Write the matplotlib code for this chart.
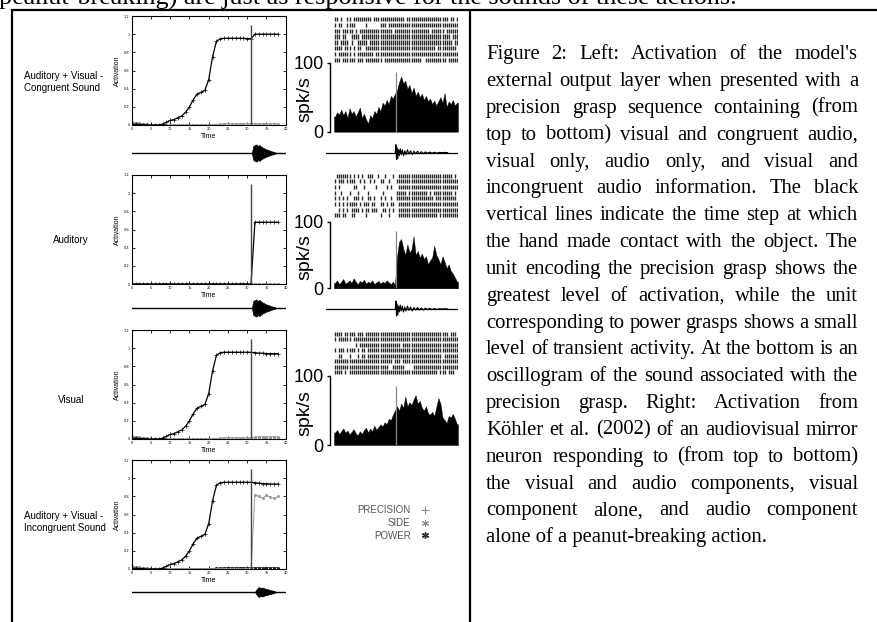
import matplotlib
matplotlib.use('Agg')
import matplotlib.pyplot as plt
from matplotlib.lines import Line2D
from matplotlib.font_manager import FontProperties
from matplotlib.ticker import FormatStrFormatter
import numpy as np

W, H = 877, 622


def rect(l, t, w, h):
    return [l / W, 1 - (t + h) / H, w / W, h / H]


# ----------------------------------------------------------------- data
TIME = [0, 1, 2, 3, 4, 5, 6, 7, 8, 9, 10, 11, 12, 13, 14, 15, 16, 17, 18, 19,
        20, 21, 22, 23, 24, 25, 26, 27, 28, 29, 30, 31, 32, 33, 34, 35, 36, 37, 38]
CONTACT_T = 31
X_TICKS = [0, 5, 10, 15, 20, 25, 30, 35, 40]
Y_TICKS = [0, 0.2, 0.4, 0.6, 0.8, 1.0, 1.2]

ROW_LABELS = ["Auditory + Visual -\nCongruent Sound", "Auditory", "Visual",
              "Auditory + Visual -\nIncongruent Sound"]

PREC_AV_CONG = [0.01, 0.01, 0.005, 0.005, 0.0, 0.0, 0.0, 0.0, 0.01, 0.03, 0.05, 0.06, 0.08,
                0.10, 0.14, 0.20, 0.28, 0.34, 0.36, 0.38, 0.50, 0.75, 0.92, 0.95, 0.955,
                0.955, 0.955, 0.955, 0.955, 0.955, 0.95, 0.95, 1.0, 1.0, 1.0, 1.0, 1.0, 1.0, 1.0]
SIDE_AV_CONG = [0.03, 0.025, 0.02, 0.015, 0.01, 0.005, 0.0, 0.0, 0.0, 0.0, 0.0, 0.0, 0.0,
                0.0, 0.0, 0.0, 0.0, 0.0, 0.0, 0.0, 0.0, 0.0, 0.005, 0.01, 0.012, 0.015,
                0.015, 0.015, 0.015, 0.015, 0.015, 0.015, 0.015, 0.015, 0.015, 0.015, 0.015, 0.015, 0.015]
POWER_AV_CONG = [0.0, 0.0, 0.0, 0.0, 0.0, 0.0, 0.0, 0.0, 0.0, 0.0, 0.0, 0.0, 0.0, 0.0, 0.0,
                 0.0, 0.0, 0.0, 0.0, 0.0, 0.0, 0.0, 0.0, 0.0, 0.0, 0.0, 0.0, 0.0, 0.0, 0.0,
                 0.0, 0.0, 0.0, 0.0, 0.0, 0.0, 0.0, 0.0, 0.0]

PREC_AUD = [0.0, 0.0, 0.0, 0.0, 0.0, 0.0, 0.0, 0.0, 0.0, 0.0, 0.0, 0.0, 0.0, 0.0, 0.0, 0.0,
            0.0, 0.0, 0.0, 0.0, 0.0, 0.0, 0.0, 0.0, 0.0, 0.0, 0.0, 0.0, 0.0, 0.0, 0.0, 0.0,
            0.68, 0.68, 0.68, 0.68, 0.68, 0.68, 0.68]
SIDE_AUD = [0.0, 0.0, 0.0, 0.0, 0.0, 0.0, 0.0, 0.0, 0.0, 0.0, 0.0, 0.0, 0.0, 0.0, 0.0, 0.0,
            0.0, 0.0, 0.0, 0.0, 0.0, 0.0, 0.0, 0.0, 0.0, 0.0, 0.0, 0.0, 0.0, 0.0, 0.0, 0.0,
            0.0, 0.0, 0.0, 0.0, 0.0, 0.0, 0.0]
POWER_AUD = [0.0, 0.0, 0.0, 0.0, 0.0, 0.0, 0.0, 0.0, 0.0, 0.0, 0.0, 0.0, 0.0, 0.0, 0.0, 0.0,
             0.0, 0.0, 0.0, 0.0, 0.0, 0.0, 0.0, 0.0, 0.0, 0.0, 0.0, 0.0, 0.0, 0.0, 0.0, 0.0,
             0.0, 0.0, 0.0, 0.0, 0.0, 0.0, 0.0]

PREC_VIS = [0.01, 0.01, 0.005, 0.005, 0.0, 0.0, 0.0, 0.0, 0.01, 0.03, 0.05, 0.06, 0.08,
            0.10, 0.14, 0.20, 0.28, 0.34, 0.36, 0.38, 0.50, 0.75, 0.92, 0.95, 0.955,
            0.955, 0.955, 0.955, 0.955, 0.955, 0.955, 0.955, 0.95, 0.945, 0.945, 0.94, 0.94, 0.94, 0.94]
SIDE_VIS = [0.03, 0.025, 0.02, 0.015, 0.01, 0.005, 0.0, 0.0, 0.0, 0.0, 0.0, 0.0, 0.0,
            0.0, 0.0, 0.0, 0.0, 0.0, 0.0, 0.0, 0.0, 0.0, 0.005, 0.01, 0.012, 0.015,
            0.015, 0.015, 0.015, 0.015, 0.015, 0.015, 0.02, 0.025, 0.025, 0.025, 0.025, 0.025, 0.025]
POWER_VIS = [0.0, 0.0, 0.0, 0.0, 0.0, 0.0, 0.0, 0.0, 0.0, 0.0, 0.0, 0.0, 0.0, 0.0, 0.0,
             0.0, 0.0, 0.0, 0.0, 0.0, 0.0, 0.0, 0.0, 0.0, 0.0, 0.0, 0.0, 0.0, 0.0, 0.0,
             0.0, 0.0, 0.0, 0.0, 0.0, 0.0, 0.0, 0.0, 0.0]

PREC_AV_INC = [0.01, 0.01, 0.005, 0.005, 0.0, 0.0, 0.0, 0.0, 0.01, 0.03, 0.05, 0.06, 0.08,
               0.10, 0.14, 0.20, 0.28, 0.34, 0.36, 0.38, 0.50, 0.75, 0.92, 0.95, 0.955,
               0.955, 0.955, 0.955, 0.955, 0.955, 0.955, 0.955, 0.95, 0.945, 0.94, 0.94, 0.935, 0.935, 0.935]
SIDE_AV_INC = [0.03, 0.025, 0.02, 0.015, 0.01, 0.005, 0.0, 0.0, 0.0, 0.0, 0.0, 0.0, 0.0,
               0.0, 0.0, 0.0, 0.0, 0.0, 0.0, 0.0, 0.0, 0.0, 0.0, 0.0, 0.0, 0.0,
               0.0, 0.0, 0.0, 0.0, 0.0, 0.0, 0.82, 0.80, 0.78, 0.81, 0.79, 0.78, 0.80]
POWER_AV_INC = [0.0, 0.0, 0.0, 0.0, 0.0, 0.0, 0.0, 0.0, 0.0, 0.0, 0.0, 0.0, 0.0, 0.0, 0.0,
                0.0, 0.0, 0.0, 0.0, 0.0, 0.0, 0.005, 0.01, 0.012, 0.015, 0.015, 0.015, 0.015,
                0.015, 0.015, 0.015, 0.015, 0.015, 0.015, 0.015, 0.015, 0.015, 0.015, 0.015]

# sound oscillogram envelopes (model panels), time units
ENV_T_CONG = [31.2, 31.6, 32.0, 32.4, 32.8, 33.2, 33.6, 34.0, 34.5, 35.0, 35.5, 36.0, 36.5, 37.0, 37.6]
ENV_A_CONG = [0, 7, 8, 8.5, 7, 8, 6.5, 5.5, 4.5, 3.5, 3, 2, 1.5, 1, 0]
ENV_T_INC = [32.0, 32.5, 33.0, 33.5, 34.0, 34.5, 35.0, 35.5, 36.0, 36.5, 37.0, 37.6]
ENV_A_INC = [0, 3, 5, 4, 4.5, 3.5, 3, 2.5, 2, 1.5, 1, 0]

# neuron firing-rate histograms (spk/s), 60 bins, event at bin 30
HIST_AV = [22, 28, 25, 32, 24, 30, 20, 34, 26, 30, 22, 28, 35, 20, 26, 18, 12, 24, 20, 30,
           26, 36, 30, 42, 38, 46, 40, 52, 48, 55, 60, 72, 80, 70, 74, 62, 68, 56, 64, 52,
           58, 50, 55, 46, 52, 44, 48, 40, 45, 38, 44, 50, 42, 56, 36, 44, 40, 46, 38, 42]
HIST_AUD = [8, 12, 6, 10, 14, 7, 9, 12, 8, 15, 10, 6, 11, 9, 13, 7, 10, 8, 12, 6,
            9, 11, 7, 10, 8, 12, 9, 6, 10, 5, 48, 70, 74, 60, 50, 66, 54, 58, 78, 50,
            56, 46, 52, 44, 48, 36, 42, 46, 64, 50, 44, 36, 48, 40, 30, 36, 26, 22, 16, 10]
HIST_VIS = [18, 22, 16, 20, 24, 18, 21, 15, 19, 23, 17, 14, 20, 16, 22, 25, 18, 24, 20, 28,
            22, 26, 30, 27, 33, 30, 38, 36, 44, 50, 56, 50, 60, 54, 70, 56, 62, 58, 66, 72,
            60, 64, 54, 50, 56, 46, 44, 48, 42, 55, 68, 60, 40, 36, 32, 42, 40, 45, 38, 30]
HIST_MARK = 30
HIST_MARK_TOP = 86

RASTER_AV = [
    "|| |  || ||||||||| ||||||||||||||| |||||||||||||||||||| || |",
    "| ||  ||||     |      ||| |||||||||||||||||||||||||||||||||||",
    "||| ||||| | |||||||||||||||| ||||||||||||||||| |||||| |||||||",
    "||| ||  |||| ||||||||||||||||||||||||||||||||||||||||||| ||||",
    "|| |||| |  ||||| |||||||||||||||||||||||||||||||||||||||| |||",
    "|||| ||| | ||  |||||||||||||||||||||||||||||||||| ||||||||| |",
    "| |||||| | |||||||| ||||||||||||||||||||||||||||||||||||||||",
    "||| |||||| ||| |||||||| ||||||||||||||||||  |||||||||| ||||||",
]
RASTER_AUD = [
    " ||||||| | | |  |||  |  |   |  |||||||||||||||||||||||||| | |",
    "| ||| ||||  | |  | |  ||  |   ||||||||||||||||||||||||||||||",
    "| |      ||   |     |    | |   ||||||||||||||||||||||||||||| ",
    "|  |   |   |    |      |      ||||| ||||||||| | ||||||||| |  ",
    "| | | |  ||| |  || |  | |  |  |||||||||||||||||| |||||||||| |",
    "| | | ||||| | ||| ||  || | ||  |||||||||||||||||||||||||||||",
    "  | | | |||| | || |||  || | |  ||||||||||||||||||||||||||||||",
    "||| ||  ||     |      |   |    ||||||||||||||||||| |||||||||  ",
]
RASTER_VIS = [
    "|||| ||||| ||| |||||||||||||||||||||||||||||||||||||||| |||",
    "| |||||| |||||||||||||||||||||||||||||||||||||||||||||||||||",
    "          | |||||||||||||||||||| ||||||||||||||||||||||||||||",
    "| ||| |||| | || ||||||||||||||||||||||||||||||||||||||||||||",
    "  ||   |   | || |||||||||||||||||||||||||||||||||||| ||||||||",
    "|||||||||||||||||||||||||||| ||| |||||||||||||||||||||||||||",
    "||||||||||||||||||||||||||  ||||||    |||||||||||||||||||||||",
    "|||| | ||||||||||||||||||||||||||||||||||||||||||| ||| |||  |",
]

# neuron-panel sound oscillogram (bin units, relative amplitude)
OSC_T = [29.6, 29.9, 30.2, 30.5, 30.8, 31.2, 31.6, 32.0, 32.5, 33.0, 33.6, 34.2, 34.8, 35.5,
         36.2, 37.0, 37.8, 38.6, 39.5, 40.4, 41.3, 42.2, 43.2, 44.2, 45.2, 46.3, 47.4, 48.5,
         49.7, 51.0, 52.3, 53.6, 55.0]
OSC_A = [0, 8, -7, 5, -6, 3, -3, 4, -2, 3, -3, 2, -2, 3, -1.5, 2, -2, 1.5, -1, 1.5, -1, 1,
         -1, 0.8, -0.6, 0.6, -0.5, 0.4, -0.4, 0.3, 0, 0.3, 0]

LEGEND_LABELS = ["PRECISION", "SIDE", "POWER"]

CAPTION = [
    "Figure 2: Left: Activation of the model's",
    "external output layer when presented with a",
    "precision grasp sequence containing (from",
    "top to bottom) visual and congruent audio,",
    "visual only, audio only, and visual and",
    "incongruent audio information. The black",
    "vertical lines indicate the time step at which",
    "the hand made contact with the object. The",
    "unit encoding the precision grasp shows the",
    "greatest level of activation, while the unit",
    "corresponding to power grasps shows a small",
    "level of transient activity. At the bottom is an",
    "oscillogram of the sound associated with the",
    "precision grasp. Right: Activation from",
    "Köhler et al. (2002) of an audiovisual mirror",
    "neuron responding to (from top to bottom)",
    "the visual and audio components, visual",
    "component alone, and audio component",
    "alone of a peanut-breaking action.",
]
TOP_LINE = "peanut-breaking) are just as responsive for the sounds of these actions."

# ----------------------------------------------------------------- figure
fig = plt.figure(figsize=(W / 100, H / 100), dpi=100)
ax0 = fig.add_axes([0, 0, 1, 1])
ax0.set_xlim(0, W)
ax0.set_ylim(H, 0)
ax0.axis('off')

# page frame
ax0.plot([12, 877], [9.5, 9.5], color='k', lw=1.6, solid_capstyle='butt', zorder=5)
ax0.plot([12, 12], [9, 622], color='k', lw=1.6, solid_capstyle='butt', zorder=5)
ax0.plot([470, 470], [9, 622], color='k', lw=1.6, solid_capstyle='butt', zorder=5)

# model activation panels
model_sets = [
    (PREC_AV_CONG, SIDE_AV_CONG, POWER_AV_CONG, (ENV_T_CONG, ENV_A_CONG)),
    (PREC_AUD, SIDE_AUD, POWER_AUD, (ENV_T_CONG, ENV_A_CONG)),
    (PREC_VIS, SIDE_VIS, POWER_VIS, None),
    (PREC_AV_INC, SIDE_AV_INC, POWER_AV_INC, (ENV_T_INC, ENV_A_INC)),
]
ax_tops = [16, 175, 330, 460]
osc_y = [153, 308, None, 592]
label_pos = [(24, 82, 'left'), (71, 240, 'center'), (71, 400, 'center'), (24, 522, 'left')]

for i, (prec, side, power, env) in enumerate(model_sets):
    ax = fig.add_axes(rect(131.7, ax_tops[i], 154, 109))
    ax.plot(TIME, power, color='#222', lw=0.6, marker=(6, 2, 0), ms=2, mew=0.5)
    ax.plot(TIME, side, color='#9a9a9a', lw=0.7, marker=(6, 2, 0), ms=2, mew=0.5)
    ax.plot(TIME, prec, color='k', lw=0.9, marker='+', ms=2.2, mew=0.5)
    ax.vlines(CONTACT_T, 0, 1.1, color='#444', lw=1.0)
    ax.set_xlim(0, 40)
    ax.set_ylim(0, 1.2)
    ax.set_xticks(X_TICKS)
    ax.set_yticks(Y_TICKS)
    ax.yaxis.set_major_formatter(FormatStrFormatter('%g'))
    ax.tick_params(direction='in', length=2, width=0.6, labelsize=2.5, top=True,
                   right=True, pad=1.5)
    for s in ax.spines.values():
        s.set_linewidth(0.8)
    ax.set_xlabel('Time', fontsize=5, labelpad=1.5, family='Liberation Sans')
    ax.set_ylabel('Activation', fontsize=5, labelpad=2.5, family='Liberation Sans')
    lx, ly, ha = label_pos[i]
    ax0.text(lx, ly, ROW_LABELS[i], ha=ha, va='center', fontsize=7, linespacing=1.15,
             family='Liberation Sans', multialignment='left')
    if env is not None:
        ao = fig.add_axes(rect(131.7, osc_y[i] - 10, 154, 20))
        ao.set_xlim(0, 40)
        ao.set_ylim(-10, 10)
        ao.axis('off')
        ao.axhline(0, color='k', lw=1.0)
        et, ea = env
        ao.fill_between(et, [-a for a in ea], ea, color='k', lw=0.5)

# neuron panels
neuron_sets = [(RASTER_AV, HIST_AV, True), (RASTER_AUD, HIST_AUD, True),
               (RASTER_VIS, HIST_VIS, False)]
raster_box = [(16, 47), (173, 45), (331, 44)]
hist_box = [(62.7, 131.7), (221.7, 288.3), (376, 445)]
rosc_y = [152.7, 309, None]

for i, (raster, hist, has_osc) in enumerate(neuron_sets):
    rt, rh = raster_box[i]
    ar = fig.add_axes(rect(334, rt, 124, rh))
    events = [[j + 0.5 for j, c in enumerate(row.ljust(60)[:60]) if c != ' '] for row in raster]
    ar.eventplot(events, lineoffsets=list(range(len(raster))), linelengths=0.72,
                 linewidths=1.0, colors='#2a2a2a')
    ar.set_xlim(0, 60)
    ar.set_ylim(len(raster) - 0.5, -0.5)
    ar.axis('off')

    top100, bot0 = hist_box[i]
    ah = fig.add_axes(rect(334, top100, 124, bot0 - top100))
    xs = [0.0] + [j + 0.5 for j in range(len(hist))] + [60.0]
    ys = [hist[0]] + list(hist) + [hist[-1]]
    ah.fill_between(xs, 0, ys, color='k', lw=0.3)
    ah.vlines(HIST_MARK, 0, HIST_MARK_TOP, color='#888', lw=0.9)
    ah.set_xlim(0, 60)
    ah.set_ylim(0, 100)
    for s in ('top', 'right', 'bottom'):
        ah.spines[s].set_visible(False)
    ah.spines['left'].set_position(('outward', 3))
    ah.spines['left'].set_linewidth(1.0)
    ah.set_xticks([])
    ah.set_yticks([0, 100])
    ah.set_yticklabels(['0', '100'])
    ah.tick_params(axis='y', length=2.5, width=1.0, pad=2, labelsize=13)
    for t in ah.get_yticklabels():
        t.set_family('Liberation Sans')
    ah.text(-0.234, 0.47, 'spk/s', transform=ah.transAxes, rotation=90, ha='center',
            va='center', fontsize=14, family='Liberation Sans')

    if has_osc:
        ao = fig.add_axes(rect(326, rosc_y[i] - 10, 132, 20))
        ao.set_xlim(-4, 60)
        ao.set_ylim(-10, 10)
        ao.axis('off')
        ao.axhline(0, color='k', lw=0.9)
        ao.plot(OSC_T, OSC_A, color='k', lw=0.8)

# legend
handles = [Line2D([], [], ls='none', marker='+', ms=6, mew=0.8, color='#888'),
           Line2D([], [], ls='none', marker=(6, 2, 0), ms=5, mew=0.7, color='#888'),
           Line2D([], [], ls='none', marker=(6, 2, 0), ms=5, mew=1.0, color='#333')]
fig.legend(handles, LEGEND_LABELS, loc='upper right', bbox_to_anchor=(430 / W, 1 - 505 / H),
           frameon=False, markerfirst=False, handlelength=1.0, handletextpad=1.0,
           labelspacing=0.3, borderpad=0, borderaxespad=0,
           prop=FontProperties(family='Liberation Sans', size=7), labelcolor='#555')

# caption (justified)
renderer = fig.canvas.get_renderer()
fp10 = FontProperties(family='Liberation Serif', size=10)
w10, _, _ = renderer.get_text_width_height_descent(CAPTION[-1], fp10, ismath=False)
csize = 10 * 281.0 / w10
fp = FontProperties(family='Liberation Serif', size=csize)
x_left, x_right = 486.0, 858.0
base0, lstep = 59.3, 26.83
for k, line in enumerate(CAPTION):
    y = base0 + k * lstep
    words = line.split(' ')
    if k == len(CAPTION) - 1:
        ax0.text(x_left, y, line, fontproperties=fp, ha='left', va='baseline')
        continue
    widths = [renderer.get_text_width_height_descent(wd, fp, ismath=False)[0] for wd in words]
    gap = (x_right - x_left - sum(widths)) / (len(words) - 1)
    x = x_left
    for wd, ww in zip(words, widths):
        ax0.text(x, y, wd, fontproperties=fp, ha='left', va='baseline')
        x += ww + gap

# body-text line above the figure (larger type, cut by the page edge)
wt10, _, _ = renderer.get_text_width_height_descent(TOP_LINE, fp10, ismath=False)
fpt = FontProperties(family='Liberation Serif', size=10 * 738.0 / wt10)
ax0.text(-1, 4.5, TOP_LINE, fontproperties=fpt, ha='left', va='baseline')

fig.savefig('out.png', dpi=100)
